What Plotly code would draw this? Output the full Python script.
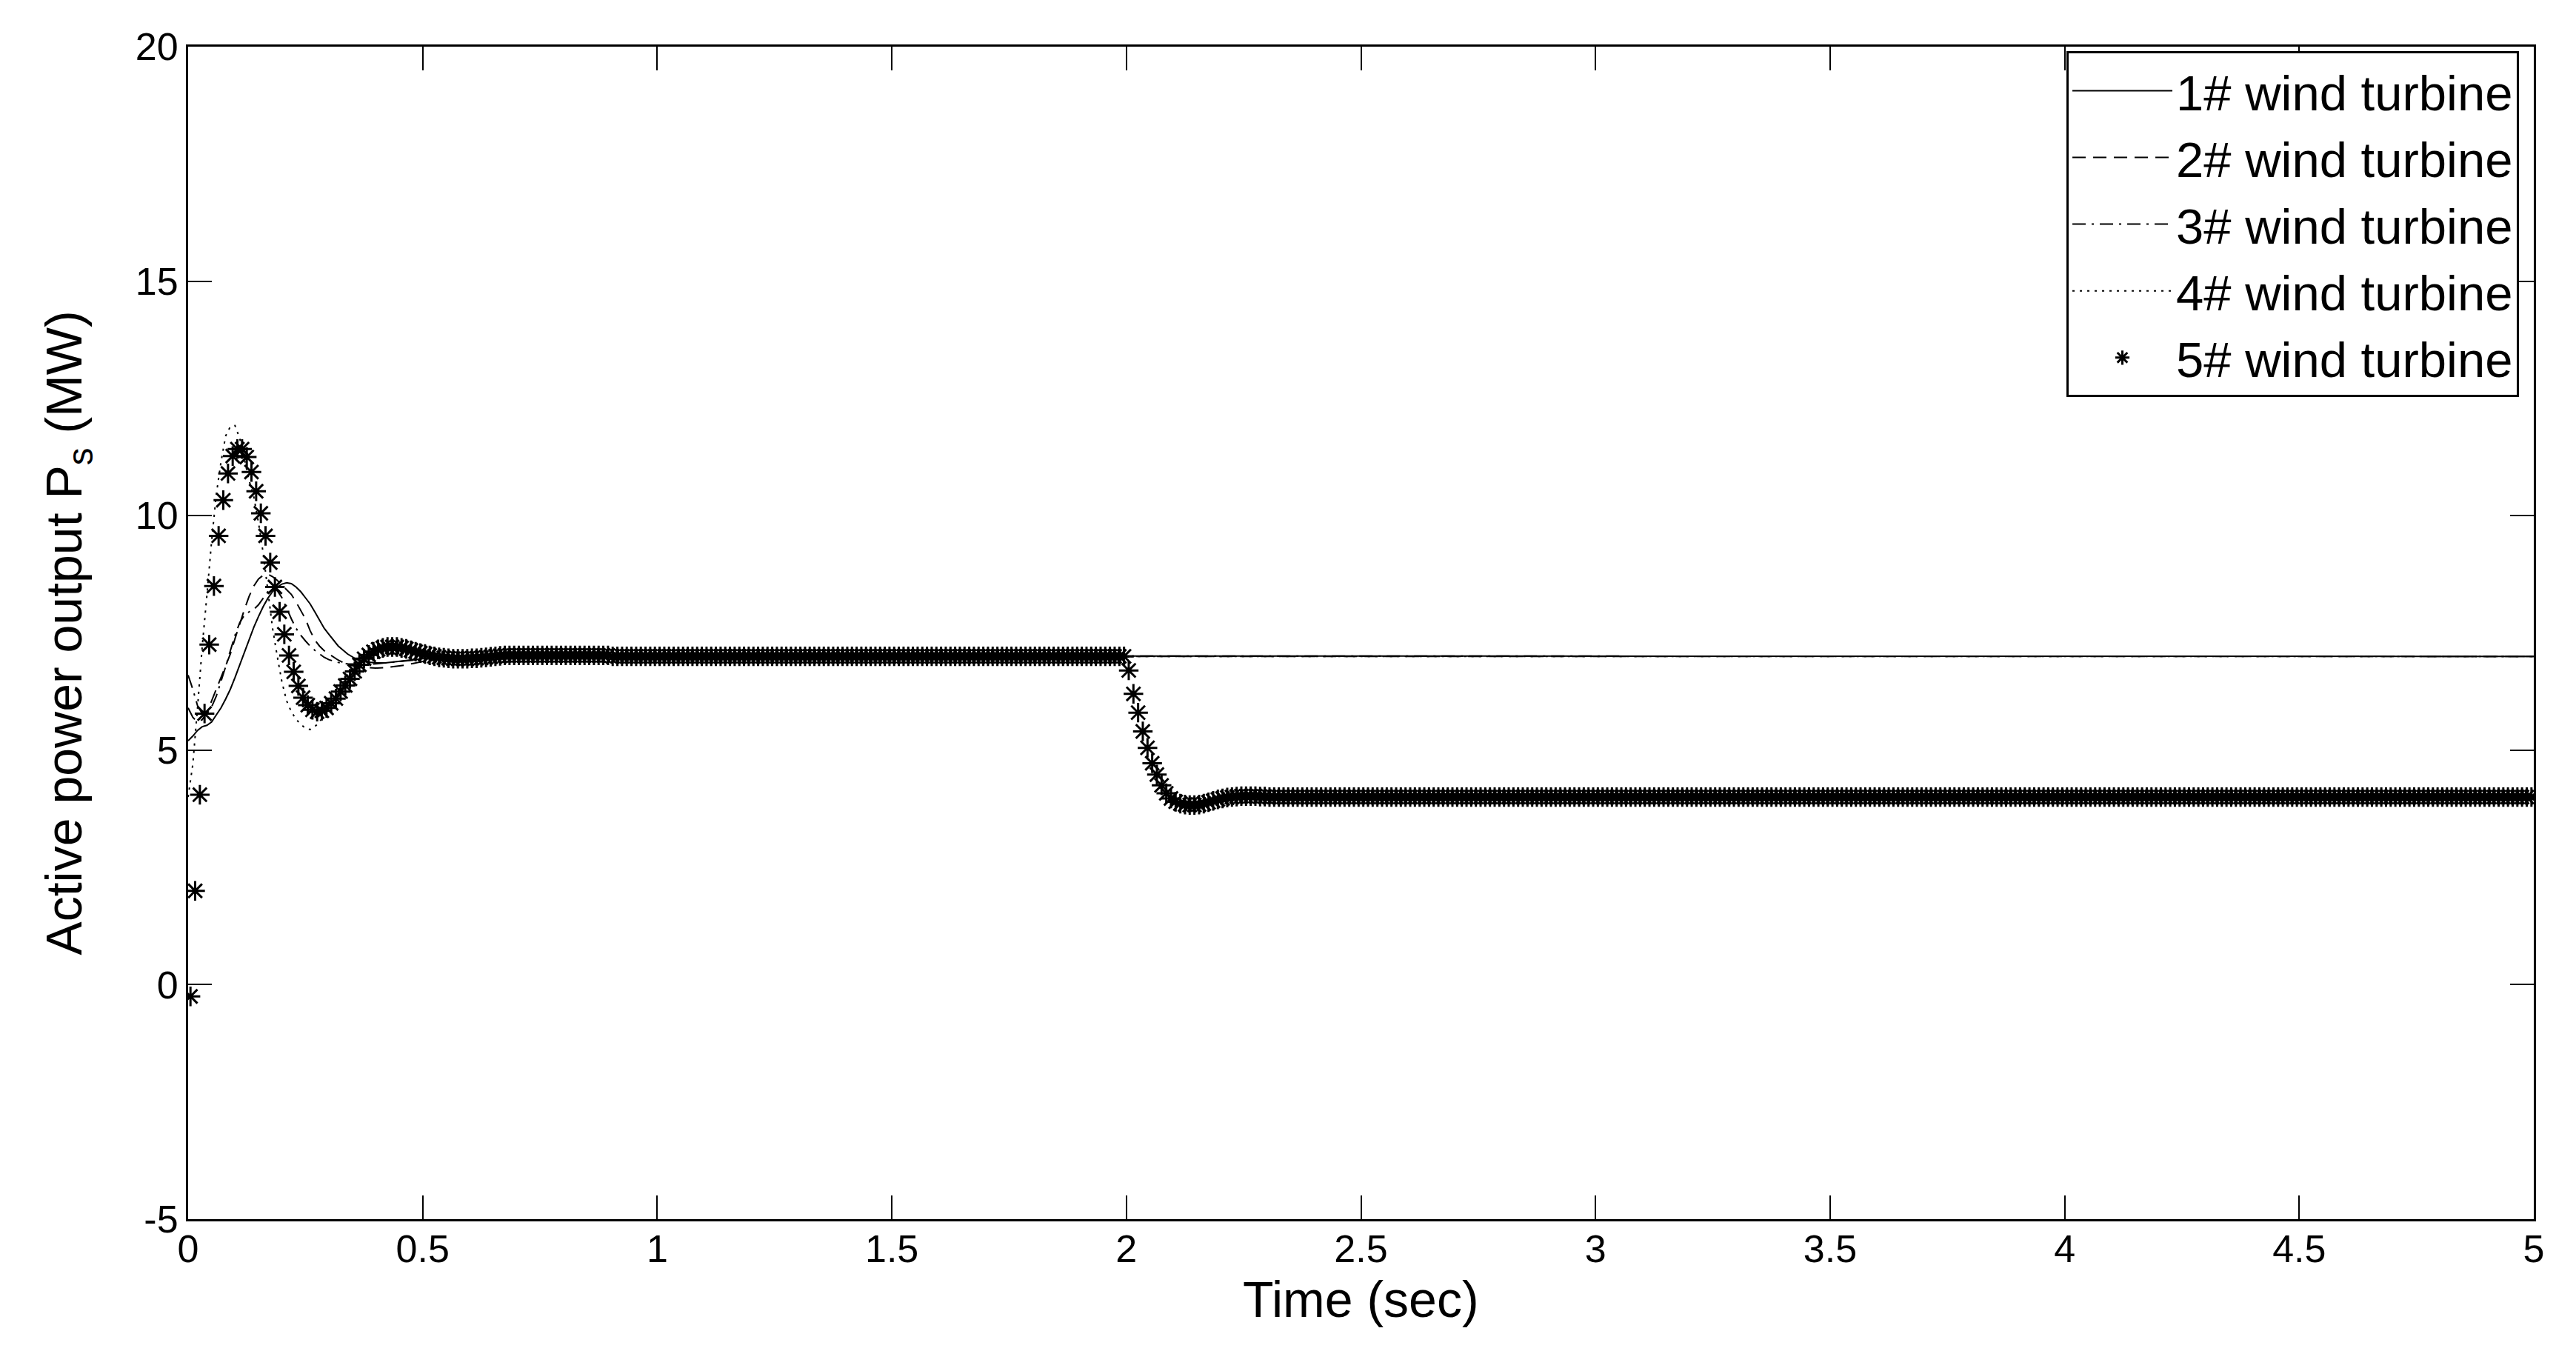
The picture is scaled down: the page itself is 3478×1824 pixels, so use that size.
import plotly.graph_objects as go

# sample times of the four line traces (sec)
t_lines = [0.00, 0.01, 0.02, 0.03, 0.04, 0.05, 0.06, 0.07, 0.08, 0.09,
           0.10, 0.11, 0.12, 0.13, 0.14, 0.15, 0.16, 0.17, 0.18, 0.19,
           0.20, 0.21, 0.22, 0.23, 0.24, 0.25, 0.26, 0.27, 0.28, 0.29,
           0.30, 0.32, 0.34, 0.36, 0.38, 0.40, 0.42, 0.44, 0.46, 0.48,
           0.50, 0.55, 0.60, 0.65, 0.70, 0.80, 0.90, 1.00, 5.00]

# active power (MW)
p1 = [5.20, 5.30, 5.42, 5.50, 5.53, 5.60, 5.75, 5.90, 6.09, 6.30,
      6.55, 6.82, 7.08, 7.36, 7.62, 7.85, 8.06, 8.24, 8.38, 8.48,
      8.54, 8.57, 8.55, 8.48, 8.38, 8.25, 8.12, 7.95, 7.78, 7.60,
      7.47, 7.22, 7.05, 6.93, 6.88, 6.86, 6.86, 6.88, 6.90, 6.93,
      6.95, 6.97, 6.99, 7.00, 7.01, 7.01, 7.00, 7.00, 7.00]
p2 = [5.90, 5.70, 5.60, 5.65, 5.80, 6.05, 6.30, 6.55, 6.80, 7.05,
      7.38, 7.70, 8.00, 8.28, 8.50, 8.65, 8.73, 8.75, 8.70, 8.62,
      8.52, 8.42, 8.32, 8.16, 7.98, 7.80, 7.55, 7.35, 7.22, 7.12,
      7.05, 6.92, 6.82, 6.78, 6.76, 6.75, 6.76, 6.78, 6.81, 6.85,
      6.89, 6.95, 6.99, 7.00, 7.01, 7.01, 7.00, 7.00, 7.00]
p3 = [6.60, 6.30, 5.95, 5.78, 5.78, 5.92, 6.15, 6.45, 6.78, 7.12,
      7.45, 7.72, 7.88, 7.95, 8.00, 8.10, 8.25, 8.38, 8.44, 8.40,
      8.25, 8.02, 7.80, 7.60, 7.45, 7.33, 7.22, 7.13, 7.05, 6.98,
      6.93, 6.87, 6.84, 6.83, 6.83, 6.84, 6.86, 6.88, 6.90, 6.92,
      6.94, 6.97, 6.99, 7.00, 7.01, 7.01, 7.00, 7.00, 7.00]
p4 = [4.00, 4.70, 5.90, 7.20, 8.30, 9.45, 10.45, 11.14, 11.70, 11.90,
      11.92, 11.65, 11.20, 10.75, 10.40, 9.85, 9.20, 8.40, 7.60, 7.00,
      6.45, 6.05, 5.82, 5.66, 5.55, 5.47, 5.44, 5.50, 5.60, 5.75,
      5.92, 6.25, 6.60, 6.90, 7.10, 7.20, 7.25, 7.25, 7.20, 7.13,
      7.05, 6.93, 6.92, 6.97, 7.02, 7.03, 7.01, 7.00, 7.00]

# 5# turbine: one marker every 0.01 s
t5 = [round(0.005 + 0.01 * k, 3) for k in range(500)]
p5_start = [-0.25, 2.00, 4.05, 5.78, 7.25, 8.50, 9.57, 10.33, 10.90, 11.27,
            11.42, 11.42, 11.25, 10.93, 10.52, 10.05, 9.57, 9.00, 8.48, 7.95,
            7.47, 7.02, 6.67, 6.37, 6.12, 5.96, 5.86, 5.82, 5.84, 5.90,
            6.00, 6.10, 6.25, 6.38, 6.52, 6.68, 6.82, 6.95, 7.03, 7.10,
            7.15, 7.18, 7.20, 7.20, 7.20, 7.18, 7.16, 7.13, 7.10, 7.07,
            7.05, 7.02, 7.00, 6.98, 6.97, 6.96, 6.95, 6.95, 6.95, 6.95,
            6.96, 6.96, 6.97, 6.98, 6.99, 7.00, 7.01, 7.02, 7.02, 7.02]
p5_hold1 = [7.02] * 20 + [7.00] * 110
p5_drop = [6.70, 6.20, 5.80, 5.40, 5.05, 4.72, 4.48, 4.25, 4.08, 3.97,
           3.90, 3.86, 3.84, 3.83, 3.83, 3.84, 3.86, 3.89, 3.92, 3.95,
           3.97, 3.99, 4.00, 4.01, 4.02, 4.02, 4.02, 4.02, 4.01, 4.01]
p5_hold2 = [4.00] * 270
p5 = p5_start + p5_hold1 + p5_drop + p5_hold2

names = ["1# wind turbine", "2# wind turbine", "3# wind turbine", "4# wind turbine", "5# wind turbine"]
x_ticks = [0, 0.5, 1, 1.5, 2, 2.5, 3, 3.5, 4, 4.5, 5]
x_ticktext = ["0", "0.5", "1", "1.5", "2", "2.5", "3", "3.5", "4", "4.5", "5"]
y_ticks = [-5, 0, 5, 10, 15, 20]
y_ticktext = ["-5", "0", "5", "10", "15", "20"]

FONT = "Liberation Sans, Arial, sans-serif"

fig = go.Figure()
dashes = ["solid", "18px,10px", "18px,8px,3px,8px", "3px,7px"]
for name, vals, dash in zip(names[:4], [p1, p2, p3, p4], dashes):
    fig.add_trace(go.Scatter(x=t_lines, y=vals, mode="lines", name=name,
                             line=dict(color="black", width=2, dash=dash)))
fig.add_trace(go.Scatter(x=t5, y=p5, mode="markers", name=names[4],
                         marker=dict(symbol="asterisk-open", size=22, color="black",
                                     line=dict(color="black", width=3))))

axis_common = dict(showline=True, linecolor="black", linewidth=3, mirror="ticks",
                   ticks="inside", ticklen=32, tickwidth=2, tickcolor="black",
                   showgrid=False, zeroline=False,
                   tickfont=dict(family=FONT, size=52, color="black"))

fig.update_xaxes(range=[0, 5], tickvals=x_ticks, ticktext=x_ticktext, ticklabelstandoff=-7,
                 **axis_common)
fig.update_yaxes(range=[-5, 20], tickvals=y_ticks, ticktext=y_ticktext,
                 title=dict(text="Active power output P<sub>s</sub> (MW)",
                            font=dict(family=FONT, size=68, color="black"), standoff=50),
                 **axis_common)

# x title placed as an annotation so it sits as close to the ticks as in the original
fig.add_annotation(text="Time (sec)", xref="paper", yref="paper", x=0.5, y=-0.068,
                   xanchor="center", yanchor="middle", showarrow=False,
                   font=dict(family=FONT, size=68, color="black"))

fig.update_layout(
    width=3478, height=1824,
    margin=dict(l=246, r=65, t=55, b=186),
    plot_bgcolor="white", paper_bgcolor="white",
    font=dict(family=FONT, color="black"),
    legend=dict(x=0.9937, xanchor="right", y=0.996, yanchor="top",
                bgcolor="white", bordercolor="black", borderwidth=3,
                font=dict(family=FONT, size=67, color="black"),
                itemwidth=135, tracegroupgap=0),
)

fig.write_html("out.html")
